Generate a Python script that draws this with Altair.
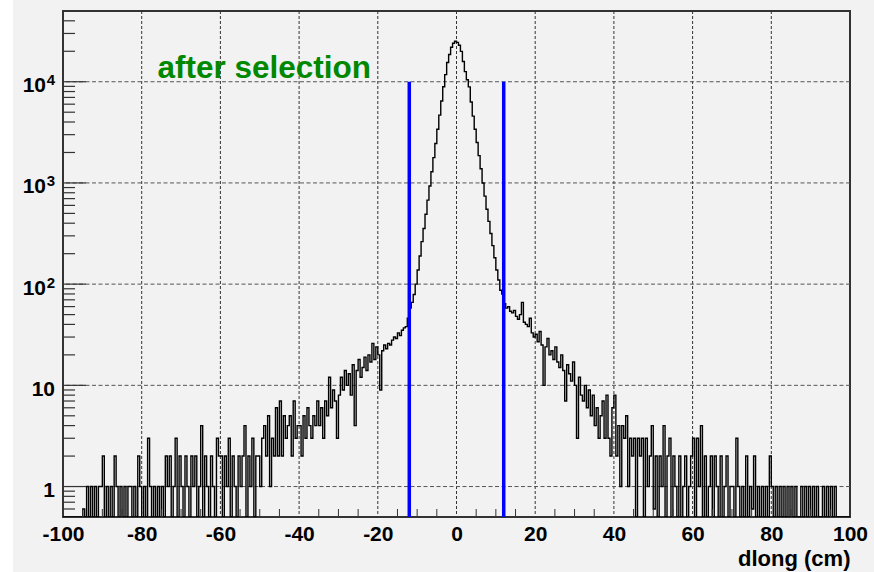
import altair as alt
import pandas as pd

# ---------------------------------------------------------------------------
# dlong histogram after selection, 0.5 cm bins from -100 cm to +100 cm.
# Each block below lists bin contents starting at the given left edge.
# ---------------------------------------------------------------------------
BIN_WIDTH = 0.5

left_tail_start = -100.0
left_tail = [
    0, 0, 0, 0, 0, 0, 0, 0, 0, 0,
    0.6, 0, 1, 0, 1, 0, 1, 0, 1, 1,
    2, 0, 1, 0, 1, 0, 2, 1, 0, 1,
    0, 1, 0, 1, 1, 0, 1, 0, 2, 1,
    0, 1, 0, 3, 1, 0, 1, 0, 1, 0,
    1, 0, 2, 1, 2, 0, 1, 3, 0, 2,
    1, 0, 2, 1, 0, 2, 1, 2, 0, 1,
    4, 0, 2, 1, 0, 2, 1, 0, 3, 2,
    2, 0, 2, 1, 3, 0, 2, 1, 0, 2,
    1, 2, 4, 0, 2, 1, 3, 0, 2, 2,
    1, 3, 4, 2, 5, 1, 3, 2, 6, 2,
    7, 2, 5, 3, 4, 5, 2, 7, 3, 4,
]

left_shoulder_start = -40.0
left_shoulder = [
    4, 2, 5, 3, 6, 4, 3, 5, 4, 7,
    4, 6, 3, 7, 5, 12, 6, 9, 7, 3,
    8, 12, 9, 14, 10, 13, 8, 16, 4, 14,
    18, 12, 15, 19, 14, 20, 17, 26, 18, 24,
    20, 9, 22, 25, 23, 26, 25, 28, 30, 29,
    33, 31, 35, 37, 38, 46,
]

core_start = -12.0
core = [
    58, 66, 79, 100, 138, 190, 263, 355, 490, 676,
    933, 1290, 1780, 2450, 3390, 4680, 6460, 8910, 11750, 15500,
    18600, 21900, 24000, 25100, 24500, 22900, 19950, 15850, 12600, 10470,
    8900, 6300, 4570, 3390, 2510, 1860, 1380, 1000, 741, 550,
    417, 316, 240, 182, 138, 110, 87, 80,
]

right_shoulder_start = 12.0
right_shoulder = [
    64, 58, 60, 54, 52, 55, 48, 45, 50, 66,
    42, 40, 38, 46, 33, 30, 32, 27, 34, 25,
    10, 24, 29, 20, 22, 18, 24, 17, 15, 20,
    14, 7, 16, 13, 11, 17, 10, 3, 12, 8,
    7, 10, 6, 9, 5, 8, 4, 6, 3, 5,
    7, 3, 8, 3, 2, 6,
]

right_tail_start = 40.0
right_tail = [
    8, 2, 4, 1, 4, 3, 5, 1, 3, 2,
    3, 0, 3, 2, 3, 0, 3, 1, 2, 4,
    0.6, 2, 0, 2, 1, 4, 0, 2, 3, 0,
    2, 1, 0, 2, 0, 1, 2, 0, 1, 2,
    3, 0, 3, 1, 4, 0, 2, 0, 1, 2,
    0, 2, 1, 0, 2, 0, 1, 2, 0, 1,
    1, 0, 3, 1, 0, 1, 0, 2, 0, 1,
    0.6, 2, 0, 1, 0, 1, 0, 1, 0, 2,
    1, 0, 1, 0, 1, 0, 1, 0, 1, 0,
    1, 0, 1, 0, 0, 1, 0, 1, 0, 1,
    0, 1, 0, 1, 0, 0, 1, 0, 1, 0,
    1, 0, 1, 0, 0, 0, 0, 0, 0, 0,
]

# selection window
cut_positions = [-12.0, 12.0]
cut_top = 1.0e4

# axis ranges
X_MIN, X_MAX = -100.0, 100.0
Y_MIN, Y_MAX = 0.5, 5.0e4

x_grid_values = [-80, -60, -40, -20, 0, 20, 40, 60, 80]
x_label_values = [-100, -80, -60, -40, -20, 0, 20, 40, 60, 80, 100]
y_decades = [1, 10, 100, 1000, 10000]
plain_y_labels = ["1", "10"]
power_y_exponents = ["2", "3", "4"]

annotation_text = "after selection"
annotation_x, annotation_y = -76.0, 11000.0

# ---------------------------------------------------------------------------
# tables
# ---------------------------------------------------------------------------
rows = []
for start, counts in [
    (left_tail_start, left_tail),
    (left_shoulder_start, left_shoulder),
    (core_start, core),
    (right_shoulder_start, right_shoulder),
    (right_tail_start, right_tail),
]:
    for i, c in enumerate(counts):
        rows.append({"edge": start + BIN_WIDTH * i, "count": c})
rows.sort(key=lambda r: r["edge"])
rows.append({"edge": X_MAX, "count": rows[-1]["count"]})
hist = pd.DataFrame(rows)
# empty bins sit on the bottom of the log frame, as ROOT draws them
hist["shown"] = hist["count"].clip(lower=Y_MIN)

cuts = pd.DataFrame({"x": cut_positions, "top": cut_top, "bottom": Y_MIN})
xgrid = pd.DataFrame({"x": x_grid_values})
ygrid = pd.DataFrame({"y": y_decades})
y_minor = pd.DataFrame(
    {"y": [m * 10.0 ** k for k in range(-1, 5) for m in range(2, 10)
           if Y_MIN < m * 10.0 ** k < Y_MAX]}
)
x_minor = pd.DataFrame(
    {"x": [v for v in range(-95, 100, 5) if v % 20 != 0]}
)
plain_lab = pd.DataFrame({"y": y_decades[:2], "t": plain_y_labels})
power_lab = pd.DataFrame({"y": y_decades[2:], "b": "10", "e": power_y_exponents})
note = pd.DataFrame({"x": [annotation_x], "y": [annotation_y], "t": [annotation_text]})
strip = pd.DataFrame({"a": [0]})

W, H = 787, 506
PAD_L, PAD_T = 63, 11
CANVAS_W, CANVAS_H = 874, 572
FONT = "Liberation Sans"

x_scale = alt.Scale(domain=[X_MIN, X_MAX], nice=False, zero=False)
y_scale = alt.Scale(type="log", domain=[Y_MIN, Y_MAX], nice=False)

x_axis = alt.Axis(
    values=x_label_values,
    labelExpr="'' + datum.value",   # plain hyphen for negatives
    ticks=False,
    domain=False,
    grid=False,
    labelFlush=False,
    labelOverlap=False,
    labelFont=FONT,
    labelFontWeight="bold",
    labelFontSize=21,
    labelColor="black",
    labelPadding=6,
    title="dlong (cm)",
    titleFont=FONT,
    titleFontWeight="bold",
    titleFontSize=22,
    titleColor="black",
    titleAnchor="end",
    titleAlign="right",
    titleBaseline="alphabetic",
    titleX=W,
    titleY=48,
)

# every layer carries the same x axis so the shared axis survives the merge
X = lambda f: alt.X(f, scale=x_scale, axis=x_axis)
Y = lambda f: alt.Y(f, scale=y_scale, axis=None)

# white margin strip on the far left of the canvas
margin = alt.Chart(strip).mark_rect(color="white").encode(
    x=alt.value(-PAD_L), x2=alt.value(-PAD_L + 13),
    y=alt.value(-PAD_T), y2=alt.value(CANVAS_H)
)

vgrid = alt.Chart(xgrid).mark_rule(color="#333", strokeWidth=1, strokeDash=[3, 2]).encode(
    x=X("x:Q")
)
hgrid = alt.Chart(ygrid).mark_rule(color="#555", strokeWidth=1, strokeDash=[4, 2.5]).encode(
    y=Y("y:Q")
)

histo = alt.Chart(hist).mark_line(
    interpolate="step-after", color="black", strokeWidth=1.4, clip=True
).encode(
    x=X("edge:Q"),
    y=Y("shown:Q"),
    order="edge:Q",
)

cut_lines = alt.Chart(cuts).mark_rule(color="#0000ff", strokeWidth=3.5).encode(
    x=X("x:Q"), y=Y("top:Q"), y2="bottom:Q"
)

y_major_ticks = alt.Chart(ygrid).mark_rule(color="#333", strokeWidth=1.2).encode(
    y=Y("y:Q"), x=alt.value(0), x2=alt.value(23)
)
y_minor_ticks = alt.Chart(y_minor).mark_rule(color="#333", strokeWidth=1.2).encode(
    y=Y("y:Q"), x=alt.value(0), x2=alt.value(12)
)
x_minor_ticks = alt.Chart(x_minor).mark_rule(color="#333", strokeWidth=1).encode(
    x=X("x:Q"), y=alt.value(H), y2=alt.value(H - 8)
)

label_style = dict(font=FONT, fontWeight="bold", color="black", align="right",
                   baseline="alphabetic")
plain_text = alt.Chart(plain_lab).mark_text(fontSize=21, dy=10.5, **label_style).encode(
    y=Y("y:Q"), x=alt.value(-8), text="t:N"
)
power_base = alt.Chart(power_lab).mark_text(fontSize=21, dy=10.5, **label_style).encode(
    y=Y("y:Q"), x=alt.value(-17), text="b:N"
)
power_exp = alt.Chart(power_lab).mark_text(fontSize=15, dy=3.5, **label_style).encode(
    y=Y("y:Q"), x=alt.value(-8), text="e:N"
)

annotation = alt.Chart(note).mark_text(
    font=FONT, fontWeight="bold", fontSize=31.5, color="#008800",
    align="left", baseline="alphabetic"
).encode(x=X("x:Q"), y=Y("y:Q"), text="t:N")

chart = alt.layer(
    margin, vgrid, hgrid, histo, cut_lines,
    y_major_ticks, y_minor_ticks, x_minor_ticks,
    plain_text, power_base, power_exp, annotation,
).properties(
    width=W,
    height=H,
    autosize=alt.AutoSizeParams(type="none"),
    padding={"left": PAD_L, "top": PAD_T,
             "right": CANVAS_W - PAD_L - W, "bottom": CANVAS_H - PAD_T - H},
    background="#f2f2f2",
).configure_view(
    stroke="#333", strokeWidth=2, fill="#f2f2f2"
)

chart.save("out.html", embed_options={"renderer": "svg", "actions": False})
